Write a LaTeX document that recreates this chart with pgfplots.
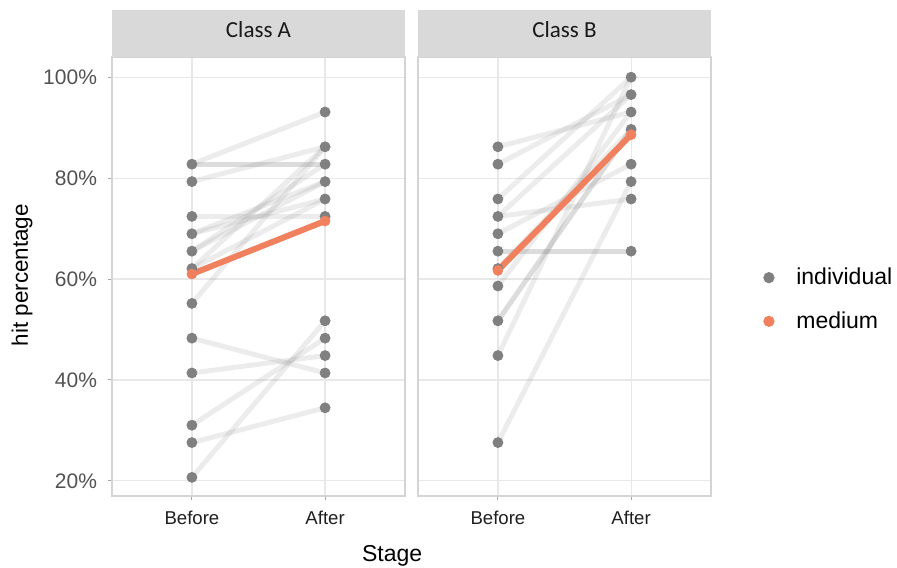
\documentclass[border=0pt]{standalone}
\usepackage{pgfplots}
\pgfplotsset{compat=1.18}
\usepackage{fontspec}
\setmainfont{Liberation Sans}
\newfontfamily\carlito{Carlito}
\definecolor{pointgray}{RGB}{128,128,128}
\definecolor{medorange}{RGB}{240,128,94}
\definecolor{stripgray}{RGB}{217,217,217}
\definecolor{gridgray}{RGB}{232,232,232}
\definecolor{bordergray}{RGB}{212,212,212}
\pgfplotsset{
  panel/.style={
    scale only axis, width=146.5pt, height=219.5pt,
    xmin=0.4, xmax=2.6, ymin=17.0, ymax=104.0,
    xtick={1,2}, xticklabels={Before,After},
    ytick={20,40,60,80,100},
    xtick pos=bottom, ytick pos=left,
    grid=major, major grid style={gridgray, line width=0.6pt},
    axis line style={bordergray, line width=0.6pt},
    tick align=outside, major tick length=2pt,
    tick style={black!35, line width=0.5pt},
    xticklabel style={font=\fontsize{9.3}{11}\selectfont, text=black!88, yshift=-2pt},
    yticklabel style={font=\fontsize{10.5}{12}\selectfont, text=black!68, xshift=-2pt},
    clip=false,
  },
  indiv/.style={no markers, line width=2.5pt, color=pointgray, opacity=0.15, forget plot},
  pts/.style={only marks, mark=*, mark size=2.5pt, color=pointgray, forget plot},
  med/.style={mark=*, mark size=2.5pt, line width=3pt, color=medorange, mark options={solid, line width=0.3pt}, forget plot},
}
\begin{document}
\begin{tikzpicture}
\useasboundingbox (0,0) rectangle (448.5pt,283.5pt);
% ---------------- Class A ----------------
\begin{axis}[panel, name=A, at={(56pt,35.5pt)}, anchor=south west,
  yticklabels={20\%,40\%,60\%,80\%,100\%},
  ylabel={hit percentage},
  ylabel style={font=\fontsize{11.2}{13}\selectfont, at={(rel axis cs:-0.307,0.503)}, anchor=center, rotate=0},
  xlabel={Stage},
  xlabel style={font=\fontsize{11.5}{13}\selectfont, at={(rel axis cs:0.956,-0.137)}, anchor=center},
]
\addplot[indiv] coordinates {(1,82.76) (2,93.10)};
\addplot[indiv] coordinates {(1,82.76) (2,82.76)};
\addplot[indiv] coordinates {(1,82.76) (2,82.76)};
\addplot[indiv] coordinates {(1,79.31) (2,86.21)};
\addplot[indiv] coordinates {(1,72.41) (2,72.41)};
\addplot[indiv] coordinates {(1,68.97) (2,79.31)};
\addplot[indiv] coordinates {(1,68.97) (2,75.86)};
\addplot[indiv] coordinates {(1,65.52) (2,82.76)};
\addplot[indiv] coordinates {(1,65.52) (2,79.31)};
\addplot[indiv] coordinates {(1,62.07) (2,75.86)};
\addplot[indiv] coordinates {(1,62.07) (2,86.21)};
\addplot[indiv] coordinates {(1,55.17) (2,86.21)};
\addplot[indiv] coordinates {(1,48.28) (2,41.38)};
\addplot[indiv] coordinates {(1,41.38) (2,44.83)};
\addplot[indiv] coordinates {(1,31.03) (2,48.28)};
\addplot[indiv] coordinates {(1,27.59) (2,34.48)};
\addplot[indiv] coordinates {(1,20.69) (2,51.72)};
\addplot[pts] coordinates {
 (1,82.76) (1,79.31) (1,72.41) (1,68.97) (1,65.52) (1,62.07) (1,55.17)
 (1,48.28) (1,41.38) (1,31.03) (1,27.59) (1,20.69)
 (2,93.10) (2,86.21) (2,82.76) (2,79.31) (2,75.86) (2,72.41)
 (2,51.72) (2,48.28) (2,44.83) (2,41.38) (2,34.48)};
\addplot[med] coordinates {(1,61.0) (2,71.5)};
\end{axis}
\fill[stripgray] (56pt,255pt) rectangle (202.5pt,278.5pt);
\node[font=\carlito\fontsize{11.5}{13}\selectfont, text=black!90] at (129.25pt,268.5pt) {Class A};
% ---------------- Class B ----------------
\begin{axis}[panel, name=B, at={(209pt,35.5pt)}, anchor=south west,
  yticklabels={}, ytick style={draw=none},
  legend style={at={(rel axis cs:1.154,0.4476)}, anchor=west, draw=none, fill=none,
    font=\fontsize{11.5}{13}\selectfont, row sep=8pt, cells={anchor=west}},
]
\addplot[indiv] coordinates {(1,86.21) (2,93.10)};
\addplot[indiv] coordinates {(1,82.76) (2,96.55)};
\addplot[indiv] coordinates {(1,75.86) (2,100)};
\addplot[indiv] coordinates {(1,72.41) (2,75.86)};
\addplot[indiv] coordinates {(1,72.41) (2,96.55)};
\addplot[indiv] coordinates {(1,68.97) (2,82.76)};
\addplot[indiv] coordinates {(1,65.52) (2,65.52)};
\addplot[indiv] coordinates {(1,65.52) (2,65.52)};
\addplot[indiv] coordinates {(1,62.07) (2,89.66)};
\addplot[indiv] coordinates {(1,58.62) (2,93.10)};
\addplot[indiv] coordinates {(1,51.72) (2,89.66)};
\addplot[indiv] coordinates {(1,51.72) (2,89.66)};
\addplot[indiv] coordinates {(1,44.83) (2,100)};
\addplot[indiv] coordinates {(1,27.59) (2,79.31)};
\addplot[pts] coordinates {
 (1,86.21) (1,82.76) (1,75.86) (1,72.41) (1,68.97) (1,65.52) (1,62.07)
 (1,58.62) (1,51.72) (1,44.83) (1,27.59)
 (2,100) (2,96.55) (2,93.10) (2,89.66) (2,82.76) (2,79.31) (2,75.86) (2,65.52)};
\addplot[med] coordinates {(1,61.7) (2,88.6)};
\addlegendimage{legend image code/.code={\path (-3pt,0pt) (11.5pt,0pt); \fill[pointgray] (0pt,0pt) circle (2.6pt);}}
\addlegendentry{individual}
\addlegendimage{legend image code/.code={\path (-3pt,0pt) (11.5pt,0pt); \fill[medorange] (0pt,0pt) circle (2.6pt);}}
\addlegendentry{medium}
\end{axis}
\fill[stripgray] (209pt,255pt) rectangle (355.5pt,278.5pt);
\node[font=\carlito\fontsize{11.5}{13}\selectfont, text=black!90] at (282.25pt,268.5pt) {Class B};
\end{tikzpicture}
\end{document}
